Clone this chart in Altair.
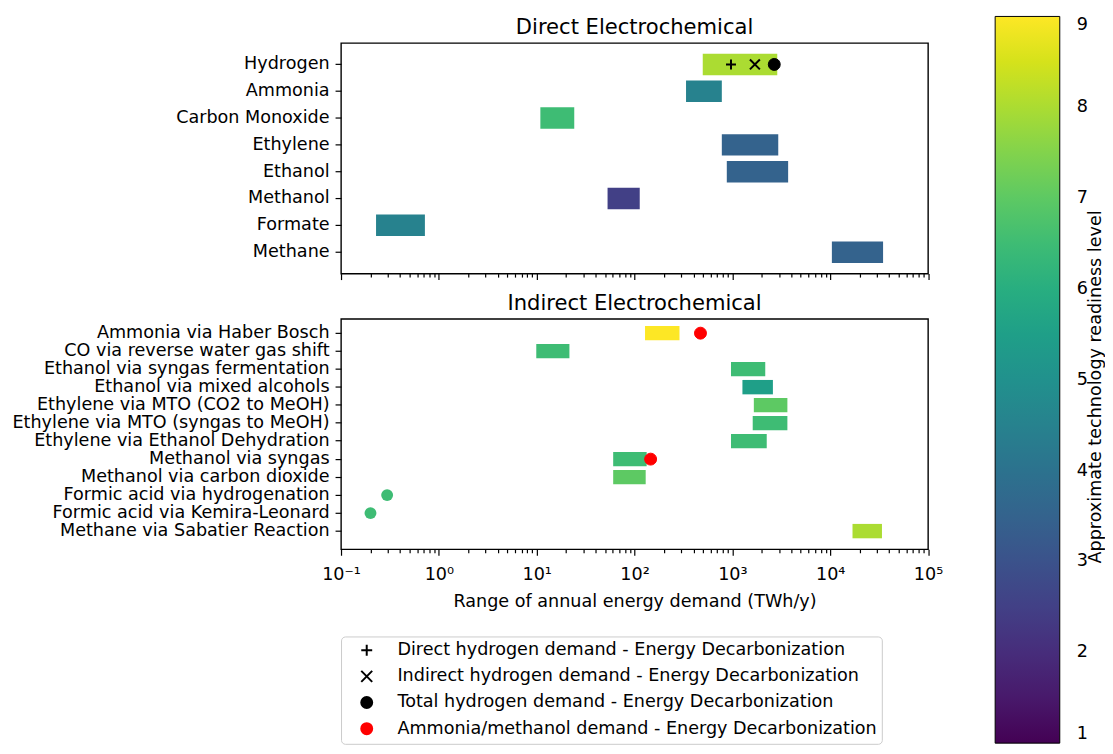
import altair as alt
import pandas as pd

# ---------------- data ----------------
direct_products = ["Hydrogen", "Ammonia", "Carbon Monoxide", "Ethylene",
                   "Ethanol", "Methanol", "Formate", "Methane"]
direct_low = [498, 336, 10.9, 780, 877, 53, 0.228, 10400]
direct_high = [2876, 780, 24.2, 2944, 3715, 113, 0.72, 34700]
direct_trl = [8, 4.5, 6.5, 3.5, 3.5, 2.5, 4.5, 3.5]

indirect_routes = ["Ammonia via Haber Bosch", "CO via reverse water gas shift",
                   "Ethanol via syngas fermentation", "Ethanol via mixed alcohols",
                   "Ethylene via MTO (CO2 to MeOH)", "Ethylene via MTO (syngas to MeOH)",
                   "Ethylene via Ethanol Dehydration", "Methanol via syngas",
                   "Methanol via carbon dioxide", "Formic acid via hydrogenation",
                   "Formic acid via Kemira-Leonard", "Methane via Sabatier Reaction"]
indirect_low = [128, 9.9, 968, 1267, 1657, 1614, 968, 60.5, 60.5, 0.296, 0.20, 16900]
indirect_high = [288, 21.6, 2168, 2596, 3650, 3650, 2245, 133, 130, 0.296, 0.20, 33800]
indirect_trl = [9, 6.5, 6.5, 5.5, 7, 6.5, 6.5, 6.5, 7, 6.5, 6.5, 8]

marker_kinds = ["Direct hydrogen demand - Energy Decarbonization",
                "Indirect hydrogen demand - Energy Decarbonization",
                "Total hydrogen demand - Energy Decarbonization",
                "Ammonia/methanol demand - Energy Decarbonization"]
h2_values = [968, 1699, 2680]          # +, x, total on the Hydrogen row
red_routes = ["Ammonia via Haber Bosch", "Methanol via syngas"]
red_values = [472, 146]

colorbar_title = ["Approximate technology readiness level"]
trl_ticks = [1, 2, 3, 4, 5, 6, 7, 8, 9]

# ---------------- tables ----------------
df_direct = pd.DataFrame({"product": direct_products, "low": direct_low,
                          "high": direct_high, "trl": direct_trl})
df_indirect = pd.DataFrame({"product": indirect_routes, "low": indirect_low,
                            "high": indirect_high, "trl": indirect_trl})
df_h2_lines = pd.DataFrame({"product": ["Hydrogen"] * 2, "low": h2_values[:2],
                            "kind": marker_kinds[:2]})
df_h2_dot = pd.DataFrame({"product": ["Hydrogen"], "low": h2_values[2:],
                          "kind": marker_kinds[2:3]})
df_red = pd.DataFrame({"product": red_routes, "low": red_values,
                       "kind": [marker_kinds[3]] * 2})
df_cbt = pd.DataFrame({"t": colorbar_title})

# ---------------- styling ----------------
FONT = "DejaVu Sans"
FS = 17.7
TITLE_FS = 21.2
W = 590.5

x_ticks = [m * 10.0 ** e for e in range(-1, 5) for m in range(1, 10)] + [1e5]
major_test = "abs(log(datum.value)/LN10 - round(log(datum.value)/LN10)) < 0.001"
sups = ["10\u207b\u00b9", "10\u2070", "10\u00b9", "10\u00b2", "10\u00b3", "10\u2074", "10\u2075"]
arr = "[" + ",".join("'" + s + "'" for s in sups) + "]"
label_expr = f"({major_test}) ? {arr}[round(log(datum.value)/LN10)+1] : ''"
tick_size = {"condition": {"test": major_test, "value": 6}, "value": 3.5}

x_scale = alt.Scale(type="log", domain=[0.1, 1e5], nice=False)

x_axis_top = alt.Axis(values=x_ticks, labels=False, title=None, domain=False,
                      grid=False, tickSize=tick_size, tickColor="black", tickWidth=1.2)
x_axis_bottom = alt.Axis(values=x_ticks, labelExpr=label_expr, labelOverlap=False,
                         labelFlush=False, title="Range of annual energy demand (TWh/y)",
                         domain=False, grid=False, tickSize=tick_size, tickColor="black",
                         tickWidth=1.2, labelFont=FONT, labelFontSize=FS, labelColor="black",
                         labelBaseline="alphabetic", labelPadding=24,
                         titleFont=FONT, titleFontSize=FS, titleFontWeight="normal",
                         titleColor="black", titlePadding=9.5)
y_axis = alt.Axis(title=None, domain=False, grid=False, tickSize=6, tickColor="black",
                  tickWidth=1.2, labelFont=FONT, labelFontSize=FS, labelColor="black",
                  labelPadding=6, labelLimit=500)

y_scale_top = alt.Scale(paddingInner=0.2, paddingOuter=0.4)
y_scale_bottom = alt.Scale(paddingInner=0.2, paddingOuter=0.5, align=0.39)

color_scale = alt.Scale(scheme="viridis", domain=[1, 9])
cbar_legend = alt.Legend(orient="none", legendX=658, legendY=-26.7, direction="vertical",
                         gradientLength=731, gradientThickness=65,
                         gradientStrokeColor="black", gradientStrokeWidth=1,
                         values=trl_ticks, format="d", labelFont=FONT,
                         labelFontSize=FS, labelColor="black", labelOffset=17,
                         labelBaseline="middle", labelOverlap=False, title=None)

shape_scale = alt.Scale(domain=marker_kinds,
                        range=["M-1,0L1,0M0,-1L0,1", "M-1,-1L1,1M-1,1L1,-1", "circle", "circle"])
fill_scale = alt.Scale(domain=marker_kinds, range=["transparent", "transparent", "black", "red"])
stroke_scale = alt.Scale(domain=marker_kinds, range=["black", "black", "black", "red"])
marker_legend = alt.Legend(orient="none", legendX=0, legendY=597, direction="vertical",
                           symbolSize=121, symbolStrokeWidth=2, symbolOpacity=1,
                           labelFont=FONT, labelFontSize=FS, labelColor="black",
                           labelLimit=800, padding=5, symbolOffset=12, labelOffset=22,
                           rowPadding=6.3, strokeColor="#cccccc", cornerRadius=4,
                           fillColor="white")


def marker_enc():
    return dict(
        shape=alt.Shape("kind:N", scale=shape_scale, legend=marker_legend, title=None),
        fill=alt.Fill("kind:N", scale=fill_scale, legend=marker_legend, title=None),
        stroke=alt.Stroke("kind:N", scale=stroke_scale, legend=marker_legend, title=None),
    )


def panel(df, order, y_scale, x_axis):
    X = lambda f: alt.X(f, scale=x_scale, axis=x_axis)
    Y = alt.Y("product:N", sort=order, scale=y_scale, axis=y_axis)
    bars = alt.Chart(df).transform_filter("datum.low < datum.high").mark_bar().encode(
        x=X("low:Q"), x2="high:Q", y=Y,
        color=alt.Color("trl:Q", scale=color_scale, legend=cbar_legend))
    dots = alt.Chart(df).transform_filter("datum.low == datum.high").mark_point(
        shape="circle", filled=True, size=144, opacity=1).encode(
        x=X("low:Q"), y=Y,
        color=alt.Color("trl:Q", scale=color_scale, legend=cbar_legend))
    return bars, dots, X, Y


def ptitle(text):
    return alt.TitleParams(text, font=FONT, fontSize=TITLE_FS, fontWeight="normal",
                           color="black", anchor="middle", offset=5)


# top panel
b1, d1, X1, Y1 = panel(df_direct, direct_products, y_scale_top, x_axis_top)
m1a = alt.Chart(df_h2_lines).mark_point(size=100, strokeWidth=2, opacity=1).encode(
    x=X1("low:Q"), y=Y1, **marker_enc())
m1b = alt.Chart(df_h2_dot).mark_point(size=144, strokeWidth=1, opacity=1).encode(
    x=X1("low:Q"), y=Y1, **marker_enc())
cbt = alt.Chart(df_cbt).mark_text(angle=270, font=FONT, fontSize=FS, color="black",
                                  align="center", baseline="middle").encode(
    x=alt.value(759), y=alt.value(346), text="t:N")
top = alt.layer(b1, m1a, m1b, cbt).properties(
    width=W, height=232, title=ptitle("Direct Electrochemical"))

# bottom panel
b2, d2, X2, Y2 = panel(df_indirect, indirect_routes, y_scale_bottom, x_axis_bottom)
m2 = alt.Chart(df_red).mark_point(size=144, strokeWidth=1, opacity=1).encode(
    x=X2("low:Q"), y=Y2, **marker_enc())
bottom = alt.layer(b2, d2, m2).properties(
    width=W, height=231.7, title=ptitle("Indirect Electrochemical"))

chart = alt.vconcat(top, bottom, spacing=45.6, bounds="flush").resolve_scale(
    color="shared", shape="shared", fill="shared", stroke="shared"
).properties(
    padding={"left": 3, "top": 6, "right": 0, "bottom": 0}
).configure(font=FONT).configure_view(stroke="black", strokeWidth=1.4)

chart.save("out.html", embed_options={"renderer": "svg", "actions": False})
